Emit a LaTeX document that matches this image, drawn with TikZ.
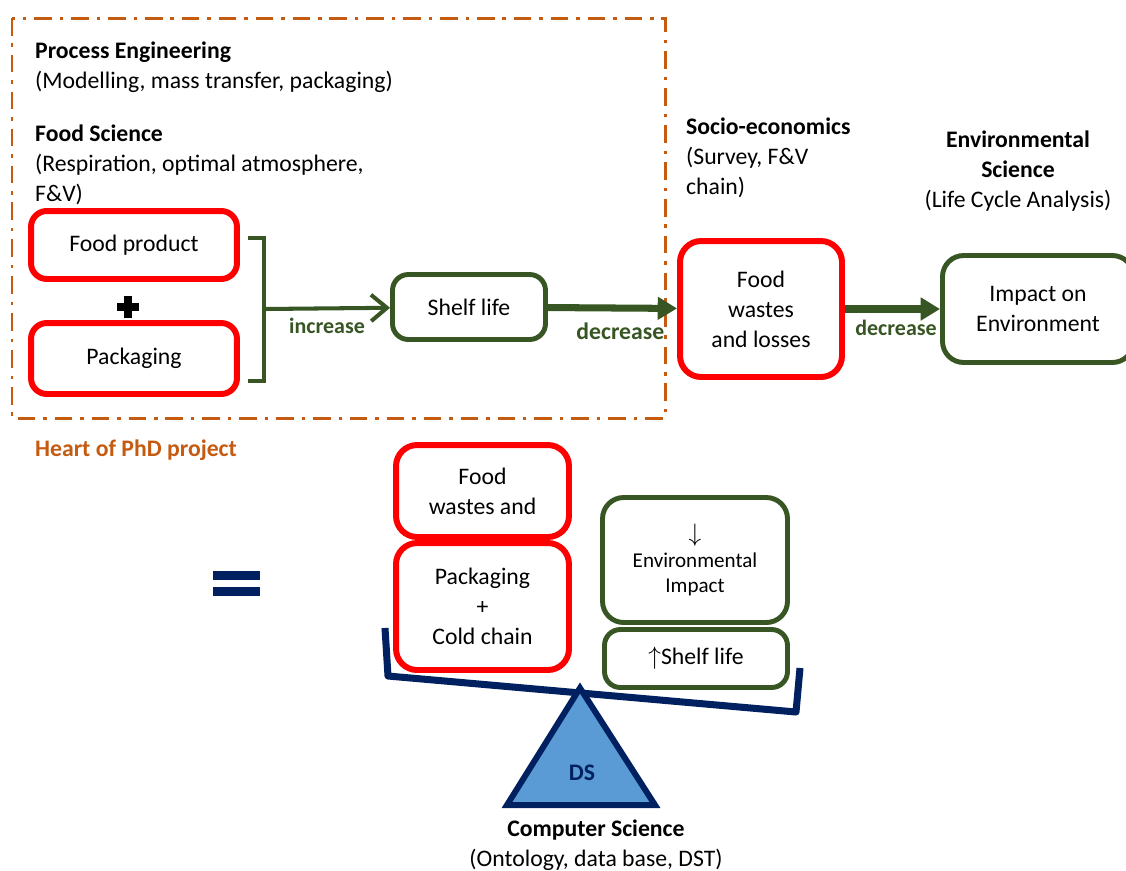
\documentclass[tikz,border=0pt]{standalone}
\usepackage{fontspec}
\setmainfont{Carlito}
\usetikzlibrary{arrows.meta}
\definecolor{boxred}{HTML}{FF0000}
\definecolor{boxgreen}{HTML}{375623}
\definecolor{phdorange}{HTML}{C55A11}
\definecolor{scalenavy}{HTML}{002060}
\definecolor{fulcrumblue}{HTML}{5B9BD5}
\begin{document}
\begin{tikzpicture}[x=0.02cm,y=-0.02cm,
        every node/.style={font=\fontsize{13.5}{17}\selectfont},
        redbox/.style={draw=boxred,line width=3.4pt,rounded corners=9pt,fill=white,align=center,inner sep=2pt},
        greenbox/.style={draw=boxgreen,line width=2.8pt,rounded corners=9pt,fill=white,align=center,inner sep=2pt},
        discipline/.style={align=left,anchor=west},
        flowlabel/.style={text=boxgreen,font=\fontsize{12.5}{14}\selectfont\bfseries},
        thickarrow/.style={draw=boxgreen,line width=4pt,-{Triangle[length=11pt,width=12.5pt]}},
        thinarrow/.style={draw=boxgreen,line width=2.3pt,-{Straight Barb[length=9pt,width=15pt]}},
        beam/.style={draw=scalenavy,line width=4pt,line join=round}]
        \clip(0,0)rectangle(1126,870);
        % heart of the project
        \draw[phdorange,line width=1.7pt,dash pattern=on 10pt off 4.5pt on 2pt off 4.5pt](12,18)rectangle(665,418);
        \node[discipline,text=phdorange,font=\fontsize{13.5}{17}\selectfont\bfseries](heart)at(29, 450){Heart of PhD project};
        \node[discipline](proceng)at(29, 67){\textbf{Process Engineering}\\(Modelling, mass transfer, packaging)};
        \node[discipline](foodsci)at(29, 165){\textbf{Food Science}\\(Respiration, optimal atmosphere,\\F\&V)};
        \node[discipline](socio)at(680, 158){\textbf{Socio-economics}\\(Survey, F\&V\\chain)};
        \node[align=center](envsci)at(1018, 171){\textbf{Environmental}\\\textbf{Science}\\(Life Cycle Analysis)};
        % upper chain
        \node[redbox,minimum width=4.12cm,minimum height=1.36cm](food)at(134, 245){Food product};
        \node[redbox,minimum width=4.12cm,minimum height=1.42cm](pack)at(134, 358.5){Packaging};
        \fill(117,303)rectangle(139,311);
        \fill(124,296)rectangle(132,318);
        \draw[draw=boxgreen,line width=2.3pt](248,238)--(264,238)--(264,381)--(248,381);
        \coordinate(brk)at(264, 309);
        \node[greenbox,minimum width=3.06cm,minimum height=1.3cm](shelf)at(469, 307){Shelf life};
        \node[redbox,minimum width=3.24cm,minimum height=2.72cm,rounded corners=12pt](waste)at(761, 309){Food\\wastes\\and losses};
        \node[greenbox,minimum width=3.82cm,minimum height=2.14cm,rounded corners=12pt](impact)at(1038, 309){Impact on\\Environment};
        \draw[thinarrow](brk) -- node[flowlabel,below=1pt]{increase} (shelf);
        \draw[thickarrow](shelf) -- node[flowlabel,below=3pt,xshift=4.5pt,font=\fontsize{13.5}{15}\selectfont\bfseries]{decrease} (waste);
        \draw[thickarrow](waste) -- node[flowlabel,below=1pt,xshift=2pt]{decrease} (impact);
        % the balance
        \fill[scalenavy](213,571)rectangle(260,580);
        \fill[scalenavy](213,587)rectangle(260,596);
        \draw[beam](385,628)--(388,676)--(796,712)--(800,668);
        \draw[scalenavy,fill=fulcrumblue,line width=3.4pt,line join=miter](580,688)--(655,805)--(507,805)--cycle;
        \node[text=scalenavy,font=\fontsize{13.5}{17}\selectfont\bfseries](ds)at(582, 773){DS};
        \node[redbox,minimum width=3.46cm,minimum height=1.84cm,rounded corners=12pt](fwa)at(482.5, 491){Food\\wastes and};
        \node[redbox,minimum width=3.46cm,minimum height=2.54cm,rounded corners=12pt](pcc)at(482.5, 606.5){Packaging\\+\\Cold chain};
        \node[greenbox,minimum width=3.7cm,minimum height=2.5cm,rounded corners=12pt,font=\fontsize{12}{14.5}\selectfont](envimp)at(695, 560){{\Large$\downarrow$}\\Environmental\\Impact};
        \node[greenbox,minimum width=3.66cm,minimum height=1.16cm](shelfup)at(696, 658.5){{\Large$\uparrow$}Shelf life};
        \node[align=center](compsci)at(596, 845){\textbf{Computer Science}\\(Ontology, data base, DST)};
\end{tikzpicture}
\end{document}
